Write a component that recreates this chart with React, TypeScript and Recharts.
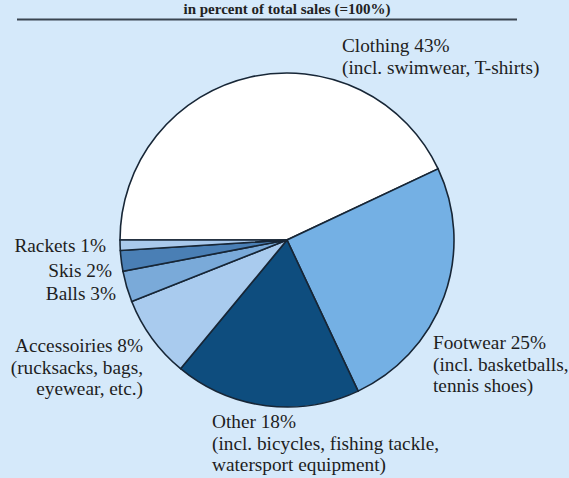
import React from 'react';
import { PieChart, Pie, Cell, Customized } from 'recharts';

const categories = ['Clothing', 'Footwear', 'Other', 'Accessoiries', 'Balls', 'Skis', 'Rackets'];
const shares = [43, 25, 18, 8, 3, 2, 1];
const details = [
  ['(incl. swimwear, T-shirts)'],
  ['(incl. basketballs,', 'tennis shoes)'],
  ['(incl. bicycles, fishing tackle,', 'watersport equipment)'],
  ['(rucksacks, bags,', 'eyewear, etc.)'],
  [],
  [],
  [],
];
const title = 'in percent of total sales (=100%)';

const colors = ['#ffffff', '#74b0e4', '#0e4d7e', '#a9cbee', '#7aaad9', '#4a7fb5', '#a9c9ec'];

const labelLayout = [
  { x: 342, y: 52, anchor: 'start' },
  { x: 433, y: 349, anchor: 'start' },
  { x: 212, y: 428, anchor: 'start' },
  { x: 143, y: 352, anchor: 'end' },
  { x: 116, y: 300, anchor: 'end' },
  { x: 112, y: 277, anchor: 'end' },
  { x: 106, y: 252, anchor: 'end' },
];

const data = categories.map((name, i) => ({ name, value: shares[i] }));

const FONT = '"Liberation Serif", "DejaVu Serif", serif';

const Labels = () => (
  <g>
    <text x={287} y={14} textAnchor="middle" fontFamily={FONT} fontWeight="bold" fontSize={15} fill="#222">
      {title}
    </text>
    <line x1={17} y1={19.5} x2={517} y2={19.5} stroke="#3a4550" strokeWidth={2} />
    {categories.map((name, i) => {
      const L = labelLayout[i];
      const lines = [`${name} ${shares[i]}%`, ...details[i]];
      return (
        <text key={name} textAnchor={L.anchor} fontFamily={FONT} fontSize={19.3} fill="#1e1e1e">
          {lines.map((ln, j) => (
            <tspan key={j} x={L.x} y={L.y + j * 21.5}>
              {ln}
            </tspan>
          ))}
        </text>
      );
    })}
  </g>
);

export default function App() {
  return (
    <div style={{ position: 'absolute', left: 0, top: 0, width: 569, height: 478, background: '#d5e9fa' }}>
      <PieChart width={569} height={478} margin={{ top: 0, right: 0, bottom: 0, left: 0 }}>
        <Pie
          data={data}
          dataKey="value"
          nameKey="name"
          cx={287}
          cy={240}
          outerRadius={167}
          startAngle={180}
          endAngle={-180}
          stroke="#172636"
          strokeWidth={1.6}
          isAnimationActive={false}
          label={false}
          labelLine={false}
        >
          {data.map((d, i) => (
            <Cell key={d.name} fill={colors[i]} />
          ))}
        </Pie>
        <Customized component={Labels} />
      </PieChart>
    </div>
  );
}
